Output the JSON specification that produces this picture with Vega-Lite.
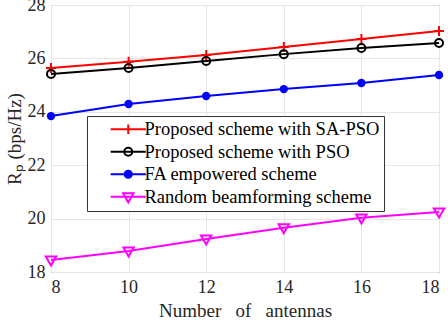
{
  "$schema": "https://vega.github.io/schema/vega-lite/v6.json",
  "width": 388,
  "height": 267,
  "autosize": {"type": "none"},
  "padding": {"left": 51, "top": 5, "right": 9, "bottom": 48},
  "background": "white",
  "config": {
    "view": {"stroke": "#333333", "strokeWidth": 1},
    "axis": {
      "labelFont": "Liberation Serif",
      "titleFont": "Liberation Serif",
      "labelFontSize": 18,
      "titleFontSize": 19,
      "labelColor": "#262626",
      "titleColor": "#262626",
      "titleFontWeight": "normal",
      "gridColor": "#e6e6e6",
      "gridWidth": 1,
      "domain": false,
      "ticks": false
    }
  },
  "data": {
    "values": [
      {"n": 8, "scheme": "Proposed scheme with SA-PSO", "rate": 25.64},
      {"n": 10, "scheme": "Proposed scheme with SA-PSO", "rate": 25.87},
      {"n": 12, "scheme": "Proposed scheme with SA-PSO", "rate": 26.13},
      {"n": 14, "scheme": "Proposed scheme with SA-PSO", "rate": 26.43},
      {"n": 16, "scheme": "Proposed scheme with SA-PSO", "rate": 26.73},
      {"n": 18, "scheme": "Proposed scheme with SA-PSO", "rate": 27.03},
      {"n": 8, "scheme": "Proposed scheme with PSO", "rate": 25.42},
      {"n": 10, "scheme": "Proposed scheme with PSO", "rate": 25.64},
      {"n": 12, "scheme": "Proposed scheme with PSO", "rate": 25.9},
      {"n": 14, "scheme": "Proposed scheme with PSO", "rate": 26.16},
      {"n": 16, "scheme": "Proposed scheme with PSO", "rate": 26.39},
      {"n": 18, "scheme": "Proposed scheme with PSO", "rate": 26.58},
      {"n": 8, "scheme": "FA empowered scheme", "rate": 23.84},
      {"n": 10, "scheme": "FA empowered scheme", "rate": 24.29},
      {"n": 12, "scheme": "FA empowered scheme", "rate": 24.59},
      {"n": 14, "scheme": "FA empowered scheme", "rate": 24.85},
      {"n": 16, "scheme": "FA empowered scheme", "rate": 25.08},
      {"n": 18, "scheme": "FA empowered scheme", "rate": 25.38},
      {"n": 8, "scheme": "Random beamforming scheme", "rate": 18.45},
      {"n": 10, "scheme": "Random beamforming scheme", "rate": 18.79},
      {"n": 12, "scheme": "Random beamforming scheme", "rate": 19.24},
      {"n": 14, "scheme": "Random beamforming scheme", "rate": 19.66},
      {"n": 16, "scheme": "Random beamforming scheme", "rate": 20.03},
      {"n": 18, "scheme": "Random beamforming scheme", "rate": 20.25}
    ]
  },
  "encoding": {
    "x": {
      "field": "n", "type": "quantitative",
      "scale": {"domain": [8, 18], "nice": false},
      "axis": {"values": [8, 10, 12, 14, 16, 18], "title": "Number\u00a0\u00a0 of\u00a0\u00a0 antennas", "labelPadding": 6, "titlePadding": 5}
    },
    "y": {
      "field": "rate", "type": "quantitative",
      "scale": {"domain": [18, 28], "nice": false, "zero": false},
      "axis": {"values": [18, 20, 22, 24, 26, 28], "title": "Rₚ (bps/Hz)", "labelPadding": 6, "titlePadding": 3}
    }
  },
  "layer": [
    {
      "mark": {"type": "line", "strokeWidth": 2},
      "encoding": {
        "color": {
          "field": "scheme", "type": "nominal",
          "scale": {
            "domain": ["Proposed scheme with SA-PSO", "Proposed scheme with PSO", "FA empowered scheme", "Random beamforming scheme"],
            "range": ["#ff0000", "#000000", "#0000ff", "#ff00ff"]
          },
          "legend": {
            "title": null,
            "orient": "none",
            "legendX": 36,
            "legendY": 111,
            "padding": 4,
            "strokeColor": "#333333",
            "fillColor": "white",
            "labelFont": "Liberation Serif",
            "labelFontSize": 18.5,
            "labelColor": "#000000",
            "labelLimit": 400,
            "labelExpr": "datum.label + '\u00a0\u00a0\u00a0'",
            "symbolSize": 256,
            "symbolStrokeWidth": 2,
            "symbolOffset": 28,
            "labelOffset": 7,
            "rowPadding": 3.5,
            "encode": {
              "symbols": {
                "update": {
                  "shape": {"signal": "datum.value === 'Proposed scheme with SA-PSO' ? 'M-2.2,0H2.2M0,-0.6V0.6' : datum.value === 'Proposed scheme with PSO' ? 'M-2.2,0H2.2M-0.5,0A0.5,0.5 0 1,1 0.5,0A0.5,0.5 0 1,1 -0.5,0' : datum.value === 'FA empowered scheme' ? 'M-2.2,0H2.2M-0.45,0A0.45,0.45 0 1,1 0.45,0A0.45,0.45 0 1,1 -0.45,0Z' : 'M-2.2,0H2.2M-0.65,-0.45L0.65,-0.45L0,0.7Z'"},
                  "fill": {"signal": "datum.value === 'FA empowered scheme' ? '#0000ff' : 'transparent'"},
                  "strokeWidth": {"value": 2}
                }
              }
            }
          }
        }
      }
    },
    {
      "transform": [{"filter": "datum.scheme === 'Proposed scheme with SA-PSO'"}],
      "mark": {"type": "point", "shape": "M-1.25,0H1.25M0,-1.25V1.25", "size": 64, "strokeWidth": 2, "filled": false, "color": "#ff0000", "opacity": 1}
    },
    {
      "transform": [{"filter": "datum.scheme === 'Proposed scheme with PSO'"}],
      "mark": {"type": "point", "shape": "circle", "size": 64, "strokeWidth": 2, "filled": false, "color": "#000000", "opacity": 1}
    },
    {
      "transform": [{"filter": "datum.scheme === 'FA empowered scheme'"}],
      "mark": {"type": "point", "shape": "circle", "size": 70, "filled": true, "color": "#0000ff", "opacity": 1}
    },
    {
      "transform": [{"filter": "datum.scheme === 'Random beamforming scheme'"}],
      "mark": {"type": "point", "shape": "M-1.3,-0.85L1.3,-0.85L0,1.4Z", "size": 64, "strokeWidth": 2, "filled": false, "color": "#ff00ff", "opacity": 1}
    }
  ]
}
